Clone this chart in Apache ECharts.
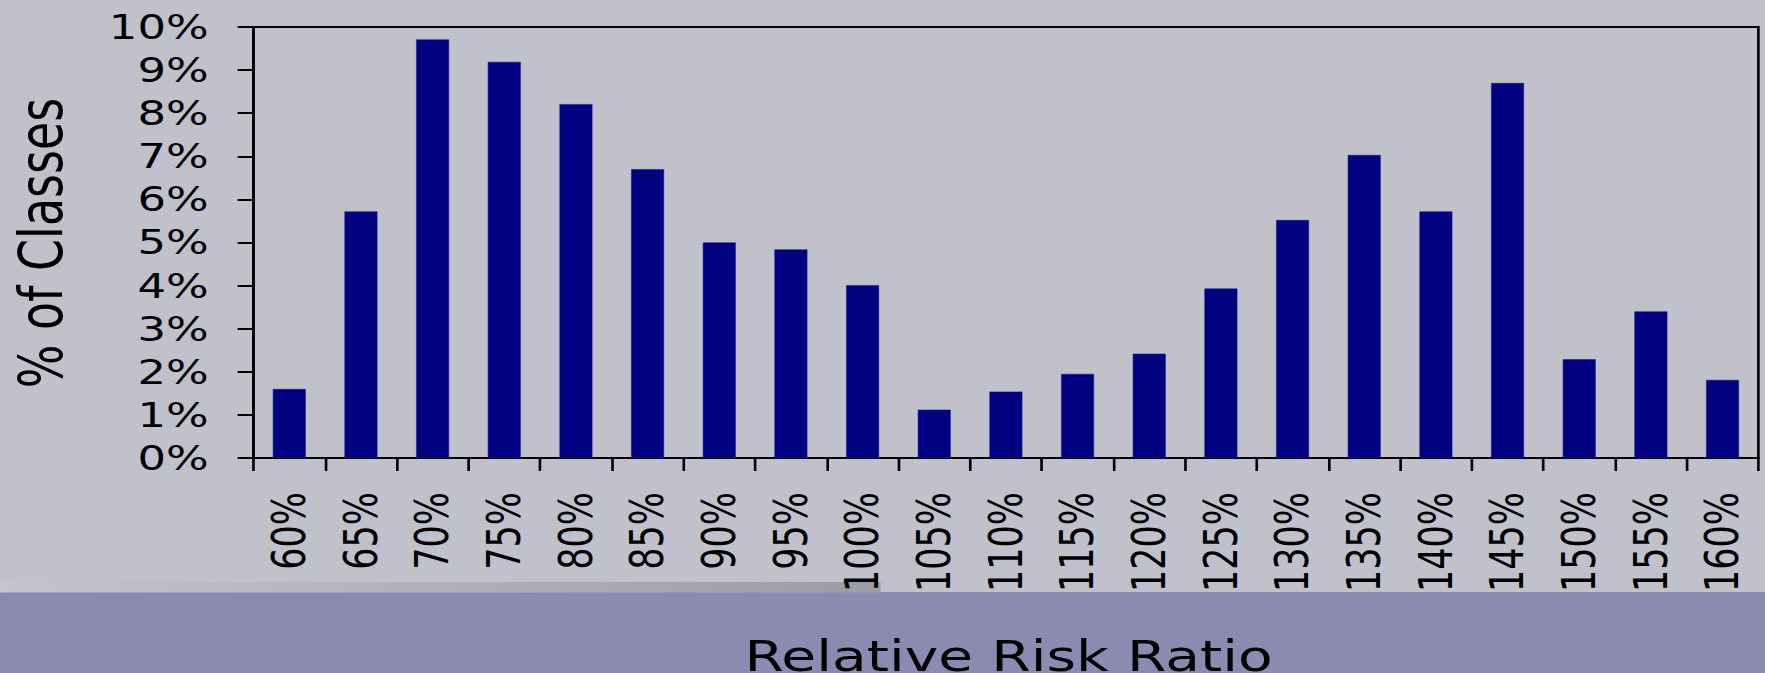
<!DOCTYPE html>
<html>
<head>
<meta charset="utf-8">
<script src="https://cdn.jsdelivr.net/npm/echarts@6/dist/echarts.min.js"></script>
<style>
  html, body { margin: 0; padding: 0; width: 1765px; height: 673px; overflow: hidden; background: #C1C1CC; }
  /* The slide artwork is horizontally widened; draw at a narrower width and stretch. */
  #chart { width: 1337px; height: 673px; transform: scaleX(1.3201); transform-origin: 0 0; }
</style>
</head>
<body>
<div id="chart"></div>
<script>
// Relative risk ratio buckets
const categories = ['60%', '65%', '70%', '75%', '80%', '85%', '90%', '95%', '100%', '105%', '110%',
  '115%', '120%', '125%', '130%', '135%', '140%', '145%', '150%', '155%', '160%'];

// Share of classes in each bucket (percent)
const shareOfClasses = [1.6, 5.72, 9.71, 9.19, 8.21, 6.7, 5.0, 4.84, 4.01, 1.12, 1.54,
  1.95, 2.42, 3.93, 5.52, 7.03, 5.72, 8.7, 2.29, 3.4, 1.81];

// Value axis ticks
const yTickValues = [0, 1, 2, 3, 4, 5, 6, 7, 8, 9, 10];
const yTickLabels = ['0%', '1%', '2%', '3%', '4%', '5%', '6%', '7%', '8%', '9%', '10%'];

const xTitle = 'Relative Risk Ratio';
const yTitle = '% of Classes';

const FONT = '"DejaVu Sans", sans-serif';
const chart = echarts.init(document.getElementById('chart'), null, { renderer: 'svg' });

chart.setOption({
  backgroundColor: '#C1C1CC',
  animation: false,
  grid: {
    left: 192, right: 5, top: 27, bottom: 215,
    show: true, borderColor: '#000', borderWidth: 2, backgroundColor: 'transparent'
  },
  xAxis: {
    type: 'category',
    data: categories,
    boundaryGap: true,
    axisLine: { lineStyle: { color: '#000', width: 2 } },
    axisTick: { show: true, inside: false, length: 13, alignWithLabel: false, lineStyle: { color: '#000', width: 2 } },
    axisLabel: { rotate: 90, interval: 0, margin: 34, color: '#000', fontFamily: FONT, fontSize: 35 },
    splitLine: { show: false }
  },
  yAxis: {
    type: 'value',
    min: yTickValues[0],
    max: yTickValues[yTickValues.length - 1],
    interval: 1,
    axisLine: { show: true, lineStyle: { color: '#000', width: 2 } },
    axisTick: { show: true, inside: false, length: 12, lineStyle: { color: '#000', width: 2 } },
    axisLabel: {
      margin: 34, color: '#000', fontFamily: FONT, fontSize: 34,
      formatter: v => yTickLabels[yTickValues.indexOf(v)]
    },
    splitLine: { show: false }
  },
  series: [{
    type: 'bar',
    data: shareOfClasses,
    barWidth: 25,
    itemStyle: { color: '#000080', borderColor: '#1a1a8c', borderWidth: 0.5 }
  }],
  graphic: [
    // lower banner
    { type: 'rect', z: -10, silent: true, shape: { x: 0, y: 592, width: 1337, height: 81 },
      style: { fill: '#8B8BB1' } },
    // shaded strip above the banner
    { type: 'rect', z: -9, silent: true, shape: { x: 0, y: 582, width: 667, height: 10.5 },
      style: { fill: new echarts.graphic.LinearGradient(0, 0, 1, 0, [
        { offset: 0, color: '#C4C4CC' }, { offset: 1, color: '#9C9CA6' }]) } },
    { type: 'text', z: 10, x: 764, y: 656,
      style: { text: xTitle, font: '43px ' + FONT, fill: '#000', align: 'center', verticalAlign: 'middle' } },
    { type: 'text', z: 10, x: 31, y: 243, rotation: Math.PI / 2,
      style: { text: yTitle, font: '46px ' + FONT, fill: '#000', align: 'center', verticalAlign: 'middle' } }
  ]
});
</script>
</body>
</html>
